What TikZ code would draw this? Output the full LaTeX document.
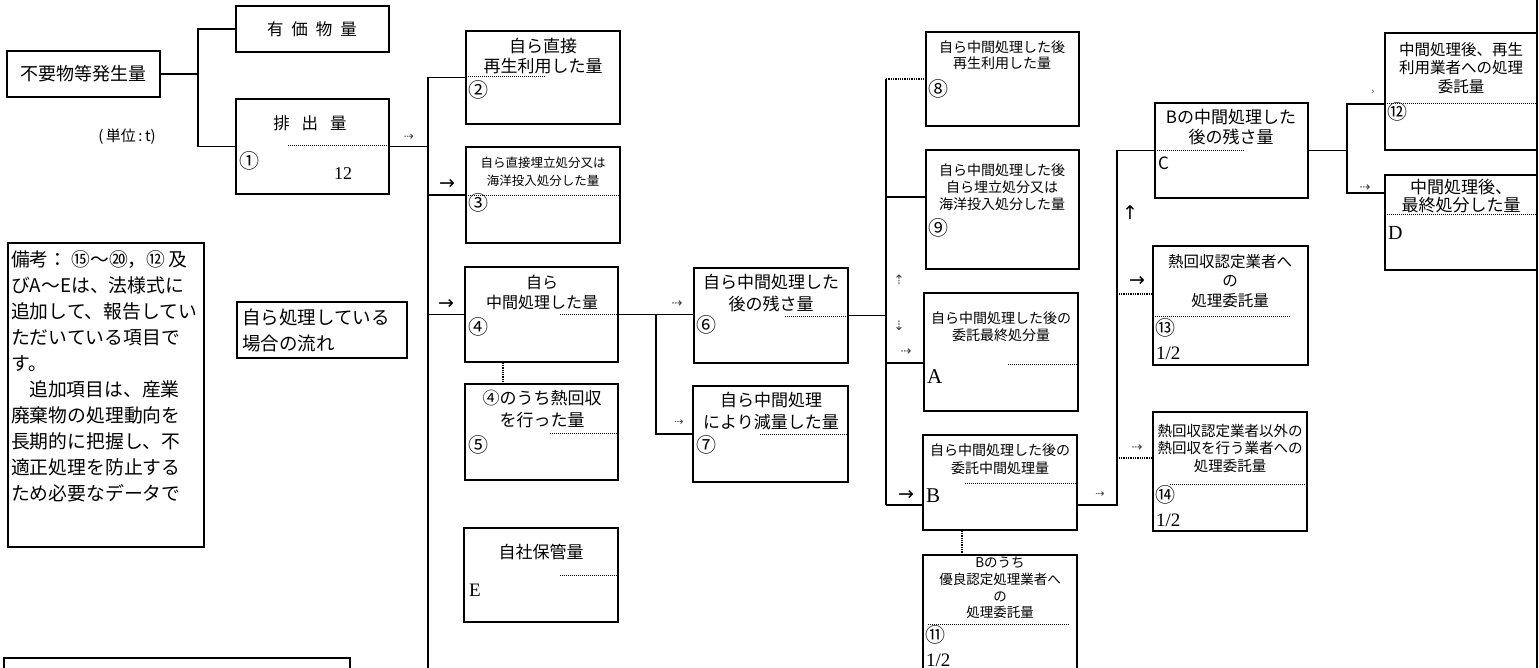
\documentclass[tikz,border=0pt]{standalone}
\usepackage{fontspec}
\setmainfont{Noto Sans CJK JP}
\newfontfamily\ser{Liberation Serif}
\newfontfamily\djv{DejaVu Sans}
\tikzset{
  box/.style={draw, line width=1.3pt, inner sep=0pt, rectangle},
  conn/.style={line width=1.3pt},
  dconn/.style={line width=1.3pt, densely dotted},
  sep/.style={line width=1pt, densely dotted},
  ttl/.style 2 args={align=center, inner sep=0pt, font=\fontsize{#1}{#2}\selectfont},
  lab/.style={anchor=west, inner sep=0pt, font=\fontsize{20}{20}\selectfont},
  ltr/.style={anchor=west, inner sep=0pt, font=\ser\fontsize{#1}{#1}\selectfont},
  arr/.style={inner sep=0pt, font=\djv\fontsize{#1}{#1}\selectfont},
  darr/.style={inner sep=0pt, text=black!75, font=\djv\fontsize{#1}{#1}\selectfont}
}
\newcommand\bx[5]{\node[box, minimum width={(#4-#2)*1pt}, minimum height={(#5-#3)*1pt}] (#1) at ({(#2+#4)/2},{(#3+#5)/2}) {};}
\begin{document}
\begin{tikzpicture}[x=1pt,y=-1pt]
\useasboundingbox (0,0) rectangle (1539,668);
\fill[white] (0,0) rectangle (1539,668);

% ---------- boxes ----------
\bx{gen}{7}{51}{160}{97}
\bx{yuka}{236}{6}{389}{52}
\bx{hai}{236}{99}{389}{194}
\bx{two}{466}{31}{620}{124}
\bx{three}{466}{147}{620}{243}
\bx{four}{465}{267}{618}{362}
\bx{five}{465}{384}{618}{480}
\bx{ee}{464}{528}{618}{622}
\bx{six}{694}{268}{848}{363}
\bx{seven}{693}{386}{848}{482}
\bx{eight}{926}{32}{1079}{126}
\bx{nine}{926}{150}{1079}{269}
\bx{aa}{924}{293}{1078}{411}
\bx{bee}{923}{435}{1077}{530}
\bx{eleven}{923}{555}{1077}{700}
\bx{cee}{1155}{103}{1308}{198}
\bx{thirteen}{1153}{246}{1308}{365}
\bx{fourteen}{1153}{412}{1307}{531}
\bx{twelve}{1385}{33}{1537}{150}
\bx{dee}{1385}{175}{1537}{270}
\bx{note}{8}{243}{204}{547}
\bx{flow}{237}{302}{407}{358}
\bx{bl}{4}{658}{350}{700}

% right page border
\draw[conn] (1537,0) -- (1537,668);

% ---------- separators inside boxes ----------
\draw[sep] (288,146) -- (389,146);
\draw[sep] (466,77) -- (545,77);
\draw[sep] (466,196) -- (620,196);
\draw[sep] (560,314) -- (618,314);
\draw[sep] (550,433) -- (618,433);
\draw[sep] (560,575) -- (618,575);
\draw[sep] (785,316) -- (848,316);
\draw[sep] (760,434) -- (848,434);
\draw[sep] (1008,364) -- (1078,364);
\draw[sep] (965,483) -- (1077,483);
\draw[sep] (928,624) -- (1070,624);
\draw[sep] (1155,151) -- (1245,151);
\draw[sep] (1155,316) -- (1290,316);
\draw[sep] (1170,484) -- (1307,484);
\draw[sep] (1385,104) -- (1537,104);
\draw[sep] (1385,215) -- (1537,215);

% ---------- texts ----------
\node[ttl={18}{22}] (tgen) at (83,74) {不要物等発生量};
\node[ttl={16.5}{20}] (tyuka) at (312,29) {有\hspace{8pt}価\hspace{8pt}物\hspace{8pt}量};
\node[ttl={16.5}{20}] (thai) at (310,123) {排\hspace{12pt}出\hspace{12pt}量};
\node[lab] (lhai) at (239,161) {①};
\node[inner sep=0pt, font=\ser\fontsize{18}{18}\selectfont] (vhai) at (343,174) {12};
\node[ttl={15}{16}] (unit) at (127,137) {(\,単位\,:\,t)};

\node[ttl={17}{20}] (ttwo) at (543,56) {自ら直接\\再生利用した量};
\node[lab] (ltwo) at (468,90) {②};
\node[ttl={12.5}{18}] (tthree) at (543,172) {自ら直接埋立処分又は\\海洋投入処分した量};
\node[lab] (lthree) at (468,203) {③};
\node[ttl={16}{20}] (tfour) at (542,292) {自ら\\中間処理した量};
\node[lab] (lfour) at (468,327) {④};
\node[ttl={17}{22}] (tfive) at (542,409) {④のうち熱回収\\を行った量};
\node[lab] (lfive) at (468,445) {⑤};
\node[ttl={17}{20}] (tee) at (541,552) {自社保管量};
\node[ltr={19}] (lee) at (469,590) {E};

\node[ttl={17}{22}] (tsix) at (771,293) {自ら中間処理した\\後の残さ量};
\node[lab] (lsix) at (696,325) {⑥};
\node[ttl={17}{22}] (tseven) at (771,411) {自ら中間処理\\により減量した量};
\node[lab] (lseven) at (696,445) {⑦};

\node[ttl={14}{16.5}] (teight) at (1002,55) {自ら中間処理した後\\再生利用した量};
\node[lab] (leight) at (928,89) {⑧};
\node[ttl={14}{17}] (tnine) at (1002,187) {自ら中間処理した後\\自ら埋立処分又は\\海洋投入処分した量};
\node[lab] (lnine) at (928,228) {⑨};
\node[ttl={14}{17}] (taa) at (1001,327) {自ら中間処理した後の\\委託最終処分量};
\node[ltr={21}] (laa) at (927,377) {A};
\node[ttl={14}{18}] (tbee) at (1000,459) {自ら中間処理した後の\\委託中間処理量};
\node[ltr={21}] (lbee) at (926,496) {B};
\node[ttl={13.5}{16.7}] (televen) at (1000,588) {Bのうち\\優良認定処理業者へ\\の\\処理委託量};
\node[lab] (leleven) at (925,635) {⑪};
\node[ltr={19}] (heleven) at (926,660) {1/2};

\node[ttl={17}{20}] (tcee) at (1231,127) {Bの中間処理した\\後の残さ量};
\node[anchor=west, inner sep=0pt, font=\fontsize{17}{17}\selectfont] (lcee) at (1158,163) {C};
\node[ttl={15.5}{19.5}] (tthirteen) at (1230,281) {熱回収認定業者へ\\の\\処理委託量};
\node[lab] (lthirteen) at (1155,328) {⑬};
\node[ltr={19}] (hthirteen) at (1156,353) {1/2};
\node[ttl={14.5}{17.5}] (tfourteen) at (1230,448) {熱回収認定業者以外の\\熱回収を行う業者への\\処理委託量};
\node[lab] (lfourteen) at (1155,495) {⑭};
\node[ltr={19}] (hfourteen) at (1156,520) {1/2};

\node[ttl={15.5}{18.5}] (ttwelve) at (1461,68) {中間処理後、再生\\利用業者への処理\\委託量};
\node[lab] (ltwelve) at (1387,112) {⑫};
\node[ttl={17}{18}] (tdee) at (1461,196) {中間処理後、\\最終処分した量};
\node[ltr={20}] (ldee) at (1388,233) {D};

\node[anchor=north west, align=left, inner sep=0pt, font=\fontsize{18.8}{26}\selectfont] (tnote) at (11,250)
 {備考：\hspace{4pt}⑮～⑳，⑫\hspace{3pt}及\\びA～Eは、法様式に\\追加して、報告してい\\ただいている項目で\\す。\\\hspace{18pt}追加項目は、産業\\廃棄物の処理動向を\\長期的に把握し、不\\適正処理を防止する\\ため必要なデータで};
\node[anchor=west, align=left, inner sep=0pt, font=\fontsize{18.5}{26}\selectfont] (tflow) at (242,330) {自ら処理している\\場合の流れ};

% ---------- connectors ----------
\coordinate (j1) at (198,74);
\draw[conn] (gen.east) -- (j1);
\draw[conn] (yuka.west) -| (j1) |- (hai.west);

\coordinate (v0t) at (428,77.5);
\coordinate (v0b) at (428,670);
\draw[conn] (hai.east) -- (hai.east -| v0t);
\draw[conn] (two.west) -- (v0t) -- (v0b);
\draw[conn] (three.west) -- (three.west -| v0t);
\draw[conn] (four.west) -- (four.west -| v0t);

\coordinate (j4) at (656,314.5);
\draw[conn] (four.east) -- (four.east -| six.west);
\draw[conn] (j4) |- (seven.west);
\draw[dconn] ([xshift=-38.5pt]four.south) -- ([xshift=-38.5pt]five.north);

\coordinate (v1t) at (886,79);
\coordinate (v1b) at (886,505);
\draw[conn] (six.east) -- (six.east -| v1t);
\draw[conn] (v1t) -- (v1b);
\draw[dconn] (v1t) -- (eight.west);
\draw[conn] ([yshift=12.5pt]nine.west) -- ([yshift=12.5pt]nine.west -| v1t);
\draw[conn] ([yshift=-11pt]aa.west) -- ([yshift=-11pt]aa.west -| v1t);
\draw[conn] (v1b) -- (v1b -| bee.west);

\coordinate (v2t) at (1117,150.5);
\coordinate (v2b) at (1117,505);
\draw[conn] (v1b -| bee.east) -- (v2b) -- (v2t) -- (cee.west);
\draw[dconn] ([yshift=11.5pt]thirteen.west) -- ([yshift=11.5pt]thirteen.west -| v2t);
\draw[dconn] ([yshift=13.5pt]fourteen.west) -- ([yshift=13.5pt]fourteen.west -| v2t);
\draw[dconn] ([xshift=-38pt]bee.south) -- ([xshift=-38pt]eleven.north);

\coordinate (v3t) at (1347,104);
\coordinate (v3b) at (1347,193);
\draw[conn] (cee.east) -- (cee.east -| v3t);
\draw[conn] (twelve.west |- v3t) -- (v3t) -- (v3b) -- (dee.west |- v3b);

% ---------- small arrow marks ----------
\node[darr={12}] (m1) at (409,137) {⇢};
\node[arr={19}] (m2) at (447,184) {→};
\node[arr={19}] (m3) at (446,304) {→};
\node[darr={13}] (m4) at (677,304) {⇢};
\node[darr={11}] (m5) at (679,423) {⇢};
\node[darr={13}] (m6) at (899,280) {⇡};
\node[darr={13}] (m7) at (899,326) {⇣};
\node[darr={13}] (m8) at (906,352) {⇢};
\node[arr={19}] (m9) at (906,495) {→};
\node[darr={11}] (m10) at (1100,495) {⇢};
\node[arr={19}] (m11) at (1130,213) {↑};
\node[arr={19}] (m12) at (1137,281) {→};
\node[darr={13}] (m13) at (1137,448) {⇢};
\node[darr={9}] (m14) at (1373,92) {›};
\node[darr={13}] (m15) at (1365,188) {⇢};
\end{tikzpicture}
\end{document}
